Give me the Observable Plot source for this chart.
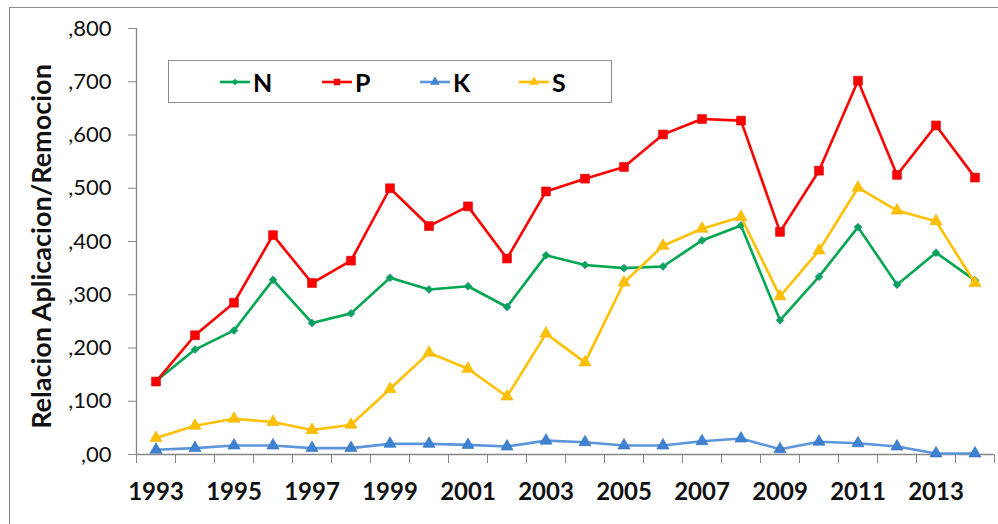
<!DOCTYPE html>
<html>
<head>
<meta charset="utf-8">
<script src="https://cdn.jsdelivr.net/npm/d3@7"></script>
<script src="https://cdn.jsdelivr.net/npm/@observablehq/plot@0.6"></script>
<style>
  html, body { margin: 0; padding: 0; background: #fff; overflow: hidden; }
  #wrap { position: relative; width: 998px; height: 524px; overflow: hidden; font-family: Lato, "Open Sans", sans-serif; }
  #frame { position: absolute; left: 9px; top: 7px; width: 1100px; height: 700px; border-left: 1.5px solid #8c8c8c; border-top: 1.5px solid #8c8c8c; }
  #chart { position: absolute; left: 0; top: 0; }
  #legend { position: absolute; left: 168px; top: 60px; width: 442px; height: 41px; border: 1.5px solid #8c8c8c; background: #fff; }
  .item { position: absolute; top: 0; height: 41px; display: flex; align-items: center; font-weight: bold; font-size: 25px; color: #000; }
  .item svg { margin-right: 3px; }
</style>
</head>
<body>
<div id="wrap">
  <div id="frame"></div>
  <div id="chart"></div>
  <div id="legend"></div>
</div>
<script>
const years = [1993,1994,1995,1996,1997,1998,1999,2000,2001,2002,2003,2004,2005,2006,2007,2008,2009,2010,2011,2012,2013,2014];
const nValues = [0.138,0.197,0.233,0.328,0.247,0.265,0.332,0.310,0.316,0.277,0.374,0.356,0.350,0.353,0.402,0.430,0.252,0.334,0.427,0.319,0.379,0.327];
const pValues = [0.137,0.224,0.285,0.412,0.322,0.364,0.500,0.429,0.466,0.368,0.494,0.518,0.540,0.601,0.630,0.627,0.418,0.533,0.702,0.525,0.618,0.520];
const kValues = [0.009,0.012,0.017,0.017,0.012,0.012,0.020,0.020,0.018,0.015,0.026,0.023,0.017,0.017,0.025,0.030,0.010,0.024,0.021,0.015,0.002,0.002];
const sValues = [0.031,0.054,0.067,0.061,0.046,0.056,0.123,0.191,0.161,0.109,0.227,0.173,0.323,0.392,0.424,0.446,0.297,0.383,0.501,0.458,0.438,0.322];
const seriesNames = ["N","P","K","S"];
const yTicks = [0,0.1,0.2,0.3,0.4,0.5,0.6,0.7,0.8];
const xLabelYears = [1993,1995,1997,1999,2001,2003,2005,2007,2009,2011,2013];
const yTitle = "Relacion Aplicacion/Remocion";

const styles = {
  N: {color: "#00A650", marker: "#00A650", symbol: "diamond2", r: 3.6, mstroke: "#3d7ebf"},
  P: {color: "#FF0000", marker: "#FF0000", symbol: "square", r: 5.0, mstroke: "#d00000"},
  K: {color: "#5B95DC", marker: "#3F82D2", symbol: "triangle", r: 4.5, mstroke: "#2e6db8"},
  S: {color: "#FFC000", marker: "#FFC000", symbol: "triangle", r: 4.5, mstroke: "#f0b000"}
};
const valuesBy = {N: nValues, P: pValues, K: kValues, S: sValues};
const rows = seriesNames.flatMap(s => years.map((year, i) => ({series: s, year, value: valuesBy[s][i]})));
const boundaries = [...years.map(y => y - 0.5), years[years.length - 1] + 0.5];
const fmt = d => d === 0 ? ",00" : "," + String(Math.round(d * 1000)).padStart(3, "0");

const marks = [
  Plot.ruleY([0], {x1: boundaries[0], x2: boundaries[boundaries.length - 1], stroke: "#868686", strokeWidth: 1.3}),
  Plot.ruleX([boundaries[0]], {y1: 0, y2: 0.8, stroke: "#868686", strokeWidth: 1.3}),
  Plot.axisY({ticks: yTicks, tickSize: 8, tickPadding: 17, tickFormat: fmt, fontSize: 22, stroke: "#868686", fill: "#111", label: null}),
  Plot.axisX({ticks: boundaries, tickSize: 9, tickFormat: () => "", stroke: "#868686", label: null}),
  Plot.axisX({ticks: xLabelYears, tickSize: 0, tickPadding: 28, tickFormat: d => String(d), fontSize: 24, fontWeight: "bold", fill: "#111", label: null}),
  Plot.text([yTitle], {frameAnchor: "left", dx: -94, dy: 5, rotate: -90, fontSize: 27, fontWeight: "bold", fill: "#111", textAnchor: "middle"})
];
for (const s of seriesNames) {
  const st = styles[s];
  const data = rows.filter(d => d.series === s);
  marks.push(Plot.line(data, {x: "year", y: "value", stroke: st.color, strokeWidth: 2.6}));
  marks.push(Plot.dot(data, {x: "year", y: "value", symbol: () => st.symbol, r: st.r, fill: st.marker, stroke: st.mstroke, strokeWidth: 0.6}));
}

const chart = Plot.plot({
  width: 998, height: 524,
  marginLeft: 136, marginRight: 4, marginTop: 28, marginBottom: 70,
  style: {fontFamily: "Lato, 'Open Sans', sans-serif", background: "transparent", overflow: "visible"},
  x: {type: "linear", domain: [boundaries[0], boundaries[boundaries.length - 1]]},
  y: {domain: [0, 0.8]},
  symbol: {type: "identity"},
  marks
});
document.getElementById("chart").appendChild(chart);

// legend
const legend = document.getElementById("legend");
const offsets = {N: 51, P: 153, K: 251, S: 350};
const symPath = (sym, r) => d3.symbol(sym === "diamond2" ? d3.symbolSquare2 : sym === "square" ? d3.symbolSquare : d3.symbolTriangle, Math.PI * r * r)();
for (const s of seriesNames) {
  const st = styles[s];
  const item = document.createElement("div");
  item.className = "item";
  item.style.left = offsets[s] + "px";
  const svg = d3.create("svg").attr("width", 30).attr("height", 14);
  svg.append("line").attr("x1", 0).attr("x2", 30).attr("y1", 7).attr("y2", 7).attr("stroke", st.color).attr("stroke-width", 2.6);
  const r = st.symbol === "diamond2" ? 3 : 3.6;
  svg.append("path").attr("d", symPath(st.symbol, r)).attr("transform", "translate(15,7)" + (st.symbol === "diamond2" ? " rotate(45)" : "")).attr("fill", st.marker);
  item.appendChild(svg.node());
  const label = document.createElement("span");
  label.textContent = s;
  item.appendChild(label);
  legend.appendChild(item);
}
</script>
</body>
</html>
